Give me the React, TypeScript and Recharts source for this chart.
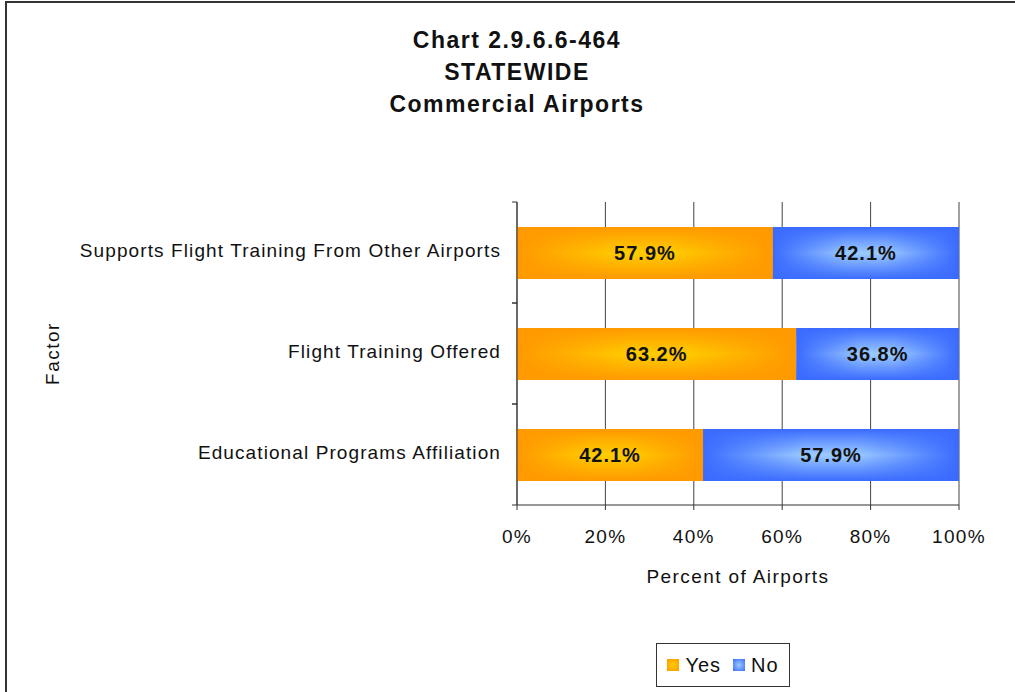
import { Bar, BarChart, CartesianGrid, LabelList, Legend, XAxis, YAxis } from 'recharts'

const factors = [
  'Supports Flight Training From Other Airports',
  'Flight Training Offered',
  'Educational Programs Affiliation',
]
const yesValues = [57.9, 63.2, 42.1]
const noValues = [42.1, 36.8, 57.9]
const xTicks = [0, 20, 40, 60, 80, 100]
const titleLines = ['Chart 2.9.6.6-464', 'STATEWIDE', 'Commercial Airports']

const FONT = '"Liberation Sans", Arial, sans-serif'

const data = factors.map((factor, i) => ({
  factor,
  yes: yesValues[i],
  no: noValues[i],
}))

// excel-ish "from center" fill: vertical gradient with a horizontal overlay
const makeShape = (key: string) => (props: any) => {
  const { x, y, width, height } = props
  if (!width || !height) return <g />
  return (
    <g>
      <rect x={x} y={y} width={width} height={height} fill={`url(#${key}V)`} />
      <rect x={x} y={y} width={width} height={height} fill={`url(#${key}H)`} />
    </g>
  )
}

const CategoryTick = (props: any) => {
  const { x, y, payload } = props
  const off = payload?.offset ?? 50.5
  return (
    <g>
      <text
        x={x + 1}
        y={y - 2}
        textAnchor='end'
        dominantBaseline='central'
        fontSize={19}
        fill='#111'
        fontFamily={FONT}
        style={{ letterSpacing: 1.1 }}
      >
        {payload.value}
      </text>
      <line x1={x + 12} x2={x + 17} y1={y - off} y2={y - off} stroke='#333' />
      <line x1={x + 12} x2={x + 17} y1={y + off} y2={y + off} stroke='#333' />
    </g>
  )
}

const LegendBox = () => (
  <div
    style={{
      display: 'flex',
      alignItems: 'center',
      justifyContent: 'center',
      height: '100%',
      fontFamily: FONT,
      fontSize: 20,
      letterSpacing: 1,
      color: '#111',
      gap: 6,
    }}
  >
    <span style={{ width: 12, height: 12, background: 'radial-gradient(#FFCC00, #FF9900)' }} />
    <span style={{ marginRight: 6 }}>Yes</span>
    <span style={{ width: 12, height: 12, background: 'radial-gradient(#9CCBFF, #3A6BFF)' }} />
    <span>No</span>
  </div>
)

export default function App() {
  return (
    <div
      style={{
        position: 'absolute',
        left: 0,
        top: 0,
        width: 1015,
        height: 692,
        overflow: 'hidden',
        background: '#fff',
        fontFamily: FONT,
      }}
    >
      <div
        style={{
          position: 'absolute',
          left: 5,
          top: 1,
          width: 2000,
          height: 2000,
          border: '2px solid #333',
        }}
      />
      <div
        style={{
          position: 'absolute',
          left: 0,
          top: 24,
          width: 1034,
          textAlign: 'center',
          fontWeight: 'bold',
          fontSize: 23,
          lineHeight: '32px',
          letterSpacing: 1.5,
          color: '#111',
        }}
      >
        {titleLines.map((t) => (
          <div key={t}>{t}</div>
        ))}
      </div>
      <BarChart
        width={1015}
        height={692}
        data={data}
        layout='vertical'
        margin={{ top: 202, right: 56, bottom: 97, left: 0 }}
        style={{ position: 'absolute', left: 0, top: 0 }}
      >
        <defs>
          <linearGradient id='yesV' x1='0' y1='0' x2='0' y2='1'>
            <stop offset='0' stopColor='#FF9900' />
            <stop offset='0.5' stopColor='#FFCC00' />
            <stop offset='1' stopColor='#FF9900' />
          </linearGradient>
          <linearGradient id='yesH' x1='0' y1='0' x2='1' y2='0'>
            <stop offset='0' stopColor='#FF9900' stopOpacity={1} />
            <stop offset='0.4' stopColor='#FF9900' stopOpacity={0} />
            <stop offset='0.6' stopColor='#FF9900' stopOpacity={0} />
            <stop offset='1' stopColor='#FF9900' stopOpacity={1} />
          </linearGradient>
          <linearGradient id='noV' x1='0' y1='0' x2='0' y2='1'>
            <stop offset='0' stopColor='#3A6BFF' />
            <stop offset='0.5' stopColor='#9CCBFF' />
            <stop offset='1' stopColor='#3A6BFF' />
          </linearGradient>
          <linearGradient id='noH' x1='0' y1='0' x2='1' y2='0'>
            <stop offset='0' stopColor='#3A6BFF' stopOpacity={1} />
            <stop offset='0.4' stopColor='#3A6BFF' stopOpacity={0} />
            <stop offset='0.6' stopColor='#3A6BFF' stopOpacity={0} />
            <stop offset='1' stopColor='#3A6BFF' stopOpacity={1} />
          </linearGradient>
        </defs>
        <CartesianGrid horizontal={false} stroke='#444' />
        <XAxis
          type='number'
          domain={[0, 100]}
          ticks={xTicks}
          tickFormatter={(v) => `${v}%`}
          tickSize={5}
          tickMargin={20}
          height={90}
          stroke='#333'
          tick={{ fill: '#111', fontSize: 19, fontFamily: FONT, style: { letterSpacing: 1.3 } }}
          label={{
            value: 'Percent of Airports',
            position: 'insideTop',
            offset: 65,
            fill: '#111',
            fontSize: 19,
            fontFamily: FONT,
            style: { letterSpacing: 1.4 },
          }}
        />
        <YAxis
          type='category'
          dataKey='factor'
          width={517}
          tickLine={false}
          tickSize={5}
          tickMargin={12}
          stroke='#333'
          tick={<CategoryTick />}
          label={{
            value: 'Factor',
            angle: -90,
            position: 'insideLeft',
            offset: 52,
            fill: '#111',
            fontSize: 19,
            fontFamily: FONT,
            style: { textAnchor: 'middle', letterSpacing: 1.5 },
          }}
        />
        <Bar dataKey='yes' name='Yes' stackId='a' barSize={52} shape={makeShape('yes')} isAnimationActive={false}>
          <LabelList
            dataKey='yes'
            position='center'
            formatter={(v: any) => `${v}%`}
            fill='#111'
            fontSize={20}
            fontWeight='bold'
            fontFamily={FONT}
            style={{ letterSpacing: 1 }}
          />
        </Bar>
        <Bar dataKey='no' name='No' stackId='a' barSize={52} shape={makeShape('no')} isAnimationActive={false}>
          <LabelList
            dataKey='no'
            position='center'
            formatter={(v: any) => `${v}%`}
            fill='#111'
            fontSize={20}
            fontWeight='bold'
            fontFamily={FONT}
            style={{ letterSpacing: 1 }}
          />
        </Bar>
        <Legend
          layout='vertical'
          align='center'
          verticalAlign='middle'
          content={<LegendBox />}
          wrapperStyle={{
            position: 'absolute',
            left: 656,
            top: 643,
            width: 134,
            height: 44,
            border: '1px solid #333',
            boxSizing: 'border-box',
            background: '#fff',
          }}
        />
      </BarChart>
    </div>
  )
}
